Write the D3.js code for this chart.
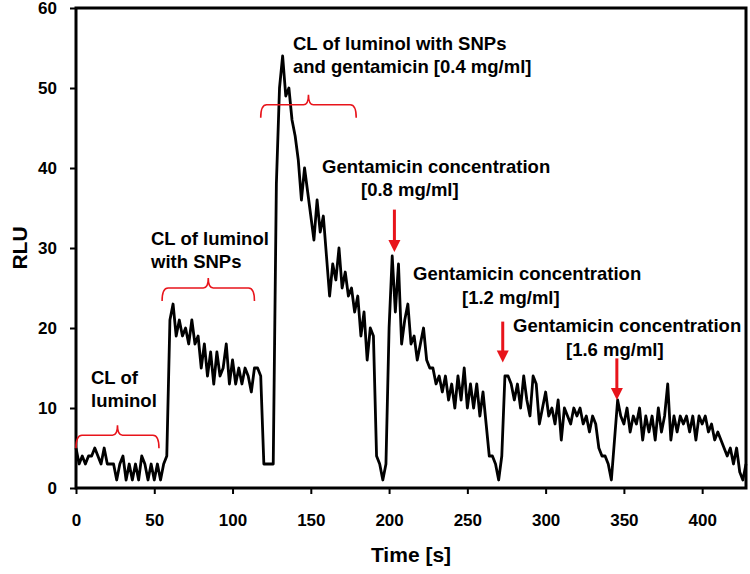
<!DOCTYPE html>
<html>
<head>
<meta charset="utf-8">
<script src="https://cdn.jsdelivr.net/npm/d3@7"></script>
<style>
  body { margin: 0; background: #fff; }
  svg { display: block; font-family: "Liberation Sans", Arial, sans-serif; }
</style>
</head>
<body>
<svg id="chart"></svg>
<script>
// RLU readings, one every 2 s, split by phase of the experiment
let luminolPhase = [5,3,4,3,4,4,5,4,3,5,3,3,3,1,3,4,1,3,1,3,1,4,3,1,3,1,3,1,3,4]               // 0-58 s
let snpPhase = [21,23,19,21,19,20,18,21,18,19,15,18,14,17,13,17,14,15,18,13,16,13,15,13,15,14,12,15,15,14,3,3,3,3] // 60-126 s
let dose04 = [38,50,54,49,50,46,44,41,36,40,37,34,31,36,32,34,29,24,28,26,30,25,27,24,25,22,24,19,22,16,20,19,4,3,1,3] // 128-198 s
let dose08 = [20,29,22,28,18,21,23,18,19,16,18,20,16,15,15,13,14,12,14,11,13,10,14,11,15,10,13,10,13,9,12,8,4,4,3,1,4] // 200-272 s
let dose12 = [14,14,13,11,13,10,14,11,9,14,13,8,10,12,9,10,8,11,6,10,9,8,10,9,10,8,9,7,9,8,5,4,4,3,1,6] // 274-344 s
let dose16 = [11,9,8,10,7,9,8,10,6,9,7,9,6,10,7,9,13,6,9,7,9,8,9,7,9,6,9,8,9,7,8,6,7,6,5,4,5,3,5,2,1,3] // 346-428 s
let step = 2

let xTicks = [0, 50, 100, 150, 200, 250, 300, 350, 400]
let yTicks = [0, 10, 20, 30, 40, 50, 60]

// brackets: [start s, end s, RLU level]
let brackets = [[0, 53, 6.6], [55, 114, 25], [118, 179, 47.9]]
// arrows: [time s, tip RLU, tail RLU]
let arrows = [[203.4, 29.5, 34.8], [272.6, 15.7, 20.8], [345.5, 11, 16.2]]

let width = 750
let height = 574
let padLeft = 76, padRight = 746, padTop = 8, padBottom = 488

let values = [].concat(luminolPhase, snpPhase, dose04, dose08, dose12, dose16)
let points = values.map((v, i) => [i * step, v])

let svg = d3.select('#chart').attr('width', width).attr('height', height)

let xScale = d3.scaleLinear().domain([0, 428]).range([padLeft, padRight])
let yScale = d3.scaleLinear().domain([0, 60]).range([padBottom, padTop])

// axes
let xAxis = d3.axisBottom(xScale).tickValues(xTicks).tickSize(6).tickPadding(20)
let yAxis = d3.axisLeft(yScale).tickValues(yTicks).tickSize(6).tickPadding(13)

let gx = svg.append('g').attr('transform', 'translate(0,' + padBottom + ')').call(xAxis)
let gy = svg.append('g').attr('transform', 'translate(' + padLeft + ',0)').call(yAxis)

;[gx, gy].forEach(g => {
    g.select('.domain').remove()
    g.selectAll('line').attr('stroke', '#000').attr('stroke-width', 2)
    g.selectAll('text').attr('fill', '#000').style('font-size', '17px').style('font-weight', 'bold')
})

// frame
svg.append('rect')
    .attr('x', padLeft).attr('y', padTop)
    .attr('width', padRight - padLeft).attr('height', padBottom - padTop)
    .attr('fill', 'none').attr('stroke', '#000').attr('stroke-width', 3)

// the trace
let line = d3.line().x(d => xScale(d[0])).y(d => yScale(d[1]))
svg.append('path')
    .datum(points)
    .attr('d', line)
    .attr('fill', 'none')
    .attr('stroke', '#000')
    .attr('stroke-width', 2.8)
    .attr('stroke-linejoin', 'round')

// red brackets
svg.selectAll('.bracket').data(brackets).enter().append('path')
    .attr('class', 'bracket')
    .attr('d', b => {
        let x0 = xScale(b[0]), x1 = xScale(b[1]), xm = (x0 + x1) / 2, y = yScale(b[2])
        return `M${x0},${y + 13} Q${x0},${y} ${x0 + 6},${y} L${xm - 5},${y} Q${xm},${y} ${xm},${y - 10}` +
               ` Q${xm},${y} ${xm + 5},${y} L${x1 - 6},${y} Q${x1},${y} ${x1},${y + 13}`
    })
    .attr('fill', 'none').attr('stroke', '#e8141b').attr('stroke-width', 1.6)

// red arrows
arrows.forEach(a => {
    let x = xScale(a[0]), tip = yScale(a[1]), tail = yScale(a[2])
    svg.append('line')
        .attr('x1', x).attr('x2', x).attr('y1', tail).attr('y2', tip - 10)
        .attr('stroke', '#e8141b').attr('stroke-width', 3)
    svg.append('path')
        .attr('d', `M${x - 6},${tip - 12} L${x + 6},${tip - 12} L${x},${tip} Z`)
        .attr('fill', '#e8141b')
})

// annotation text
let notes = [
    ['CL of', 91, 384], ['luminol', 91, 407],
    ['CL of luminol', 151, 245], ['with SNPs', 151, 268],
    ['CL of luminol with SNPs', 293, 50], ['and gentamicin [0.4 mg/ml]', 293, 73],
    ['Gentamicin concentration', 322, 173], ['[0.8 mg/ml]', 361, 196],
    ['Gentamicin concentration', 413, 280], ['[1.2 mg/ml]', 462, 304],
    ['Gentamicin concentration', 513, 332], ['[1.6 mg/ml]', 566, 356]
]
svg.selectAll('.note').data(notes).enter().append('text')
    .attr('class', 'note')
    .attr('x', d => d[1]).attr('y', d => d[2])
    .text(d => d[0])
    .style('font-size', '18.5px').style('font-weight', 'bold')

// axis titles
svg.append('text')
    .attr('x', (padLeft + padRight) / 2).attr('y', 562)
    .attr('text-anchor', 'middle')
    .style('font-size', '21px').style('font-weight', 'bold')
    .text('Time [s]')

svg.append('text')
    .attr('transform', 'translate(27,' + (padTop + padBottom) / 2 + ') rotate(-90)')
    .attr('text-anchor', 'middle')
    .style('font-size', '21px').style('font-weight', 'bold')
    .text('RLU')
</script>
</body>
</html>
